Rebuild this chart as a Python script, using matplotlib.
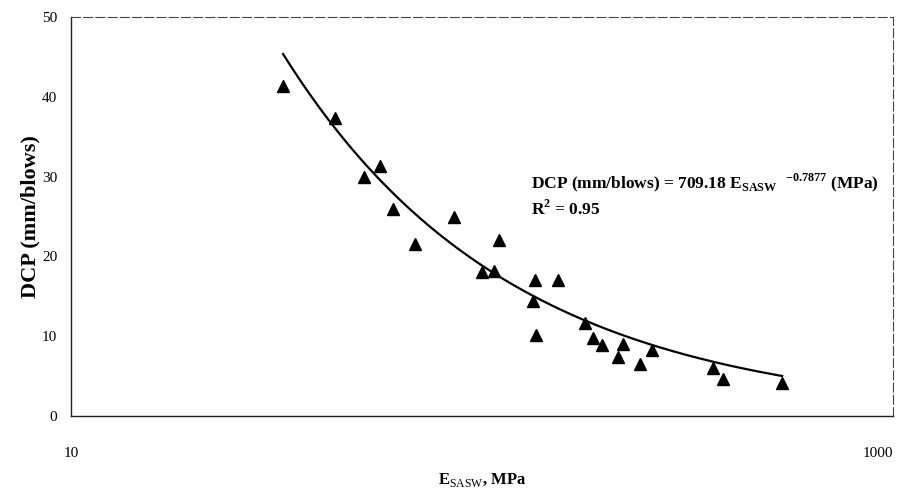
import numpy as np
import matplotlib
matplotlib.use('Agg')
import matplotlib.pyplot as plt

# 数据
e_sasw = [32.8, 43.9, 51.7, 56.5, 60.7, 68.7, 85.5, 100, 107, 110,
          134.5, 153, 133, 135, 178, 186, 196, 214, 220, 242,
          259, 365, 386, 537]
dcp = [41.3, 37.4, 29.9, 31.3, 25.9, 21.5, 24.9, 18.1, 18.2, 22.1,
       17.0, 17.0, 14.4, 10.1, 11.6, 9.8, 8.9, 7.4, 9.0, 6.5,
       8.3, 6.0, 4.6, 4.1]

# 拟合公式 DCP = 709.18 * E^-0.7877
coef_a = 709.18
coef_b = -0.7877
r2 = 0.95

# 字体
plt.rcParams['font.family'] = ['Liberation Serif', 'DejaVu Serif']
plt.rcParams['mathtext.fontset'] = 'custom'
plt.rcParams['mathtext.rm'] = 'Liberation Serif'
plt.rcParams['mathtext.bf'] = 'Liberation Serif:bold'

fig = plt.figure(figsize=(9.06, 4.95), dpi=100)
ax = fig.add_axes([0.0784, 0.1596, 0.9073, 0.8061])

# 趋势线
x_fit = np.logspace(np.log10(min(e_sasw)), np.log10(max(e_sasw)), 200)
y_fit = coef_a * x_fit ** coef_b
ax.plot(x_fit, y_fit, color='black', lw=1.6, zorder=2)

# 散点
ax.plot(e_sasw, dcp, linestyle='none', marker='^', color='black',
        markersize=9, zorder=3)

ax.set_xscale('log')
ax.set_xlim(10, 1000)
ax.set_ylim(0, 50)

ax.set_xticks([10, 1000])
ax.set_xticklabels(['10', '1000'])
ax.xaxis.set_minor_locator(matplotlib.ticker.NullLocator())
ax.get_xticklabels()[1].set_horizontalalignment('right')
ax.set_yticks([0, 10, 20, 30, 40, 50])
ax.tick_params(axis='both', length=0, labelsize=11)
ax.tick_params(axis='x', pad=22)
ax.tick_params(axis='y', pad=10)

# 坐标轴线
for s in ['left', 'bottom']:
    ax.spines[s].set_linewidth(1.0)
    ax.spines[s].set_color('#222222')
for s in ['top', 'right']:
    ax.spines[s].set_linewidth(0.8)
    ax.spines[s].set_color('#444444')
    ax.spines[s].set_linestyle((0, (8, 3)))

ax.set_ylabel('DCP (mm/blows)', fontsize=16, fontweight='semibold')
ax.yaxis.set_label_coords(-0.037, 0.5)
ax.set_xlabel(r'E$_{\mathrm{SASW}}$, MPa', fontsize=12, fontweight='bold', labelpad=8)

# 公式文字
ax.text(0.5596, 0.584,
        r'DCP (mm/blows) = 709.18 E$_{\mathbf{SASW}}$  $^{\mathbf{-0.7877}}$ (MPa)',
        transform=ax.transAxes, fontsize=12.5, fontweight='bold',
        ha='left', va='center')
ax.text(0.5596, 0.519, r'R$^{\mathbf{2}}$ = %.2f' % r2,
        transform=ax.transAxes, fontsize=12.5, fontweight='bold',
        ha='left', va='center')

plt.savefig('out.png', dpi=100)
